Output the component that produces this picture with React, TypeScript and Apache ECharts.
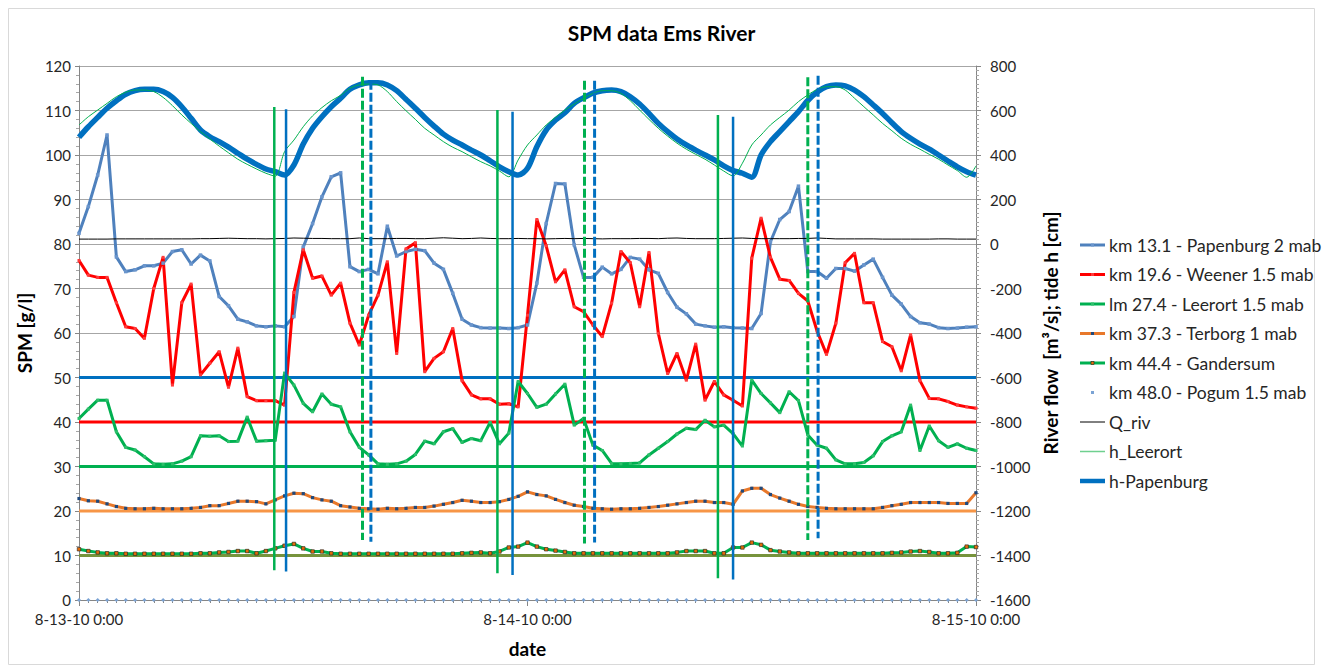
import React, { useEffect, useRef } from "react";
import * as echarts from "echarts";

const FONT = "Lato, 'Open Sans', sans-serif";

// time step between samples (hours) and x tick labels (every 24 h)
const stepHours = 0.5;
const xTickLabels = ["8-13-10 0:00", "8-14-10 0:00", "8-15-10 0:00"];

const legendNames = [
  "km 13.1 - Papenburg 2 mab",
  "km 19.6 - Weener 1.5 mab",
  "lm 27.4 - Leerort 1.5 mab",
  "km 37.3 - Terborg 1 mab",
  "km 44.4 - Gandersum",
  "km 48.0 - Pogum 1.5 mab",
  "Q_riv",
  "h_Leerort",
  "h-Papenburg",
];

// SPM [g/l]
const papenburg = [
  82.4, 88.4, 95.5, 104.5, 77.1, 73.8, 74.2, 75.1, 75.1, 75.7, 78.3, 78.7, 75.5, 77.5, 76.2, 68.2,
  66.1, 63.1, 62.5, 61.6, 61.4, 61.6, 61.4, 63.7, 79.3, 84.6, 90.6, 95.1, 96.0, 74.9, 73.8,
  74.3, 73.3, 84.0, 77.3, 78.3, 78.8, 78.5, 75.7, 74.3, 68.9, 63.1, 61.8, 61.2, 61.1, 61.1, 61.0,
  61.2, 61.8, 71.2, 84.6, 93.6, 93.5, 79.8, 72.5, 72.5, 74.8, 73.3, 74.3, 77.0, 76.6, 74.2, 73.4, 69.1,
  65.8, 64.3, 62.0, 61.6, 61.3, 61.4, 61.2, 61.1, 61.0, 64.4, 80.5, 85.5, 87.3, 93.0, 73.8, 73.8,
  72.3, 74.5, 74.5, 73.9, 75.3, 76.6, 72.5, 68.5, 66.5, 63.7, 62.3, 62.0, 61.2, 61.0, 61.1, 61.3, 61.4,
];
const weener = [
  76.3, 73.0, 72.5, 72.5, 66.8, 61.4, 61.0, 58.8, 70.0, 77.0, 48.3, 66.8, 71.0, 50.6, 53.2, 55.8,
  47.8, 56.6, 45.7, 44.8, 44.8, 44.8, 43.8, 69.1, 78.7, 72.3, 72.8, 68.5, 71.2, 62.2, 57.3,
  64.0, 68.5, 76.0, 55.4, 78.9, 80.3, 51.3, 54.3, 55.8, 61.0, 49.3, 46.1, 45.2, 45.2, 44.0, 44.1,
  43.4, 64.0, 85.5, 79.6, 71.5, 74.2, 65.9, 64.8, 61.8, 59.2, 66.7, 78.3, 75.8, 65.9, 78.1, 59.9, 50.9,
  55.4, 49.4, 57.5, 44.9, 49.1, 46.1, 44.9, 43.6, 76.8, 85.8, 77.0, 72.1, 71.8, 68.9, 67.2, 60.4,
  55.2, 62.2, 75.8, 77.9, 66.8, 66.8, 58.1, 56.9, 51.5, 59.6, 49.3, 45.3, 45.2, 44.6, 43.8, 43.4, 43.1,
];
const leerort = [
  40.8, 42.9, 44.9, 44.9, 37.8, 34.3, 33.7, 32.2, 30.6, 30.5, 30.6, 31.2, 32.2, 36.9, 36.8, 36.9,
  35.6, 35.7, 41.1, 35.7, 35.8, 35.9, 51.0, 48.3, 44.2, 42.3, 46.3, 44.0, 43.4, 37.8, 34.3, 32.6,
  30.6, 30.5, 30.6, 31.2, 32.7, 35.7, 35.1, 37.8, 38.5, 35.4, 36.3, 35.8, 39.9, 35.1, 37.5, 49.1,
  46.4, 43.3, 44.0, 46.3, 48.5, 39.3, 40.8, 34.8, 33.6, 30.7, 30.6, 30.7, 30.8, 32.6, 34.1, 35.6,
  37.3, 38.6, 38.3, 40.4, 38.9, 39.3, 37.4, 34.6, 49.4, 46.4, 44.3, 42.1, 46.8, 44.8, 37.1, 34.8,
  34.1, 31.5, 30.6, 30.6, 30.9, 32.4, 35.6, 36.9, 37.8, 43.8, 33.6, 39.1, 35.8, 34.3, 35.1, 34.1, 33.6,
];
const terborg = [
  22.8, 22.3, 22.2, 21.6, 21.0, 20.6, 20.5, 20.5, 20.6, 20.5, 20.5, 20.5, 20.6, 20.8, 21.2, 21.2,
  21.7, 22.2, 22.2, 22.1, 21.6, 22.5, 23.4, 24.0, 23.9, 23.0, 22.5, 22.2, 21.2, 20.9, 20.6, 20.5,
  20.4, 20.6, 20.5, 20.6, 20.8, 20.8, 21.1, 21.5, 21.9, 22.4, 22.2, 21.9, 21.9, 22.1, 22.6, 23.3,
  24.3, 23.7, 23.4, 22.6, 21.9, 21.3, 21.0, 20.6, 20.5, 20.4, 20.5, 20.5, 20.6, 20.8, 21.0, 21.3,
  21.6, 21.9, 22.2, 22.2, 21.9, 21.9, 21.5, 24.5, 25.1, 25.1, 23.7, 22.9, 22.2, 21.5, 21.0, 20.8,
  20.6, 20.5, 20.5, 20.5, 20.5, 20.5, 20.8, 21.2, 21.5, 21.9, 21.9, 21.9, 21.9, 21.7, 21.7, 21.7, 24.1,
];
const gandersum = [
  11.4, 11.0, 10.7, 10.5, 10.5, 10.4, 10.4, 10.4, 10.4, 10.4, 10.4, 10.4, 10.4, 10.5, 10.5, 10.7,
  10.8, 11.0, 11.0, 10.5, 11.0, 11.6, 12.2, 12.6, 11.6, 10.9, 10.9, 10.5, 10.4, 10.4, 10.4, 10.4,
  10.4, 10.4, 10.4, 10.4, 10.4, 10.4, 10.4, 10.4, 10.4, 10.5, 10.6, 10.7, 10.5, 10.9, 11.8, 12.0,
  12.9, 12.0, 11.4, 11.1, 10.8, 10.5, 10.5, 10.5, 10.5, 10.5, 10.5, 10.5, 10.5, 10.5, 10.5, 10.5,
  10.7, 11.0, 11.0, 11.0, 10.5, 10.5, 11.8, 11.8, 12.9, 12.4, 11.2, 10.9, 10.7, 10.5, 10.5, 10.5,
  10.5, 10.5, 10.5, 10.5, 10.5, 10.5, 10.5, 10.6, 10.7, 10.9, 11.0, 10.8, 10.5, 10.5, 10.6, 12.0, 11.9,
];
const pogum = [
  0, 0, 0, 0, 0, 0, 0, 0, 0, 0, 0, 0, 0, 0, 0, 0, 0, 0, 0, 0, 0, 0, 0, 0, 0, 0, 0, 0, 0, 0, 0, 0,
  0, 0, 0, 0, 0, 0, 0, 0, 0, 0, 0, 0, 0, 0, 0, 0, 0, 0, 0, 0, 0, 0, 0, 0, 0, 0, 0, 0, 0, 0, 0, 0,
  0, 0, 0, 0, 0, 0, 0, 0, 0, 0, 0, 0, 0, 0, 0, 0, 0, 0, 0, 0, 0, 0, 0, 0, 0, 0, 0, 0, 0, 0, 0, 0, 0,
];

// River flow [m3/s] and tide h [cm] (secondary axis)
const qRiv = [
  22, 22, 22, 22, 23, 23, 23, 23, 23, 23, 23, 23, 23, 24, 24, 25, 26, 25, 24, 24,
  23, 24, 25, 27, 26, 25, 25, 24, 24, 24, 27, 24, 24, 24, 25, 25, 24, 24, 26, 28,
  26, 24, 25, 27, 25, 24, 24, 25, 24, 24, 23, 24, 25, 24, 25, 24, 23, 24, 24, 24,
  25, 25, 24, 26, 27, 25, 24, 24, 24, 25, 26, 27, 25, 24, 24, 24, 24, 25, 25, 27,
  25, 23, 23, 23, 23, 23, 22, 22, 22, 22, 22, 22, 23, 23, 22, 22, 22,
];
const hLeerort = [
  535, 572, 602, 632, 662, 682, 692, 692, 685, 659, 622, 580, 542, 505, 472, 440,
  410, 381, 358, 337, 318, 305, 415, 467, 527, 576, 613, 644, 668, 700, 715, 719,
  715, 685, 640, 599, 560, 520, 490, 460, 435, 415, 392, 370, 351, 328, 302, 378,
  445, 490, 535, 569, 602, 629, 655, 677, 689, 689, 677, 644, 602, 560, 520, 485,
  453, 426, 403, 381, 355, 328, 306, 363, 445, 490, 535, 569, 602, 640, 670, 695,
  707, 707, 692, 655, 617, 580, 542, 509, 475, 448, 426, 403, 381, 355, 330, 300, 351,
];
const hPapenburg = [
  480, 527, 569, 610, 644, 673, 689, 695, 695, 685, 659, 617, 565, 512, 482, 460,
  435, 408, 381, 358, 337, 325, 310, 355, 449, 520, 572, 617, 655, 695, 715, 725,
  725, 715, 689, 650, 610, 569, 530, 494, 467, 445, 422, 400, 374, 347, 325, 310,
  340, 437, 512, 557, 590, 632, 657, 678, 689, 692, 685, 662, 629, 587, 542, 505,
  472, 445, 422, 400, 378, 351, 330, 318, 300, 400, 460, 505, 550, 595, 645, 683,
  707, 715, 711, 692, 662, 625, 587, 545, 505, 475, 449, 426, 400, 373, 347, 325, 310,
];

// reference levels on SPM axis
const thresholdLevels = [50, 40, 30, 20, 10];

// low / high water markers: time [h], top and bottom [g/l]
const lowWaterLeerortH = [10.45, 22.39, 34.19];
const lowWaterLeerortTop = [110.8, 110.1, 109.0];
const lowWaterLeerortBottom = [6.7, 6.0, 4.9];
const lowWaterPapenburgH = [11.08, 23.2, 35.0];
const lowWaterPapenburgTop = [110.3, 109.7, 108.6];
const lowWaterPapenburgBottom = [6.4, 5.6, 4.6];
const highWaterLeerortH = [15.17, 27.05, 39.0];
const highWaterLeerortTop = [117.6, 116.7, 117.5];
const highWaterLeerortBottom = [13.5, 12.7, 13.5];
const highWaterPapenburgH = [15.62, 27.59, 39.55];
const highWaterPapenburgTop = [116.7, 116.7, 117.8];
const highWaterPapenburgBottom = [13.1, 12.9, 13.9];

const hours = papenburg.map((_, i) => i * stepHours);
const toPairs = (vals: number[]) => vals.map((v, i) => [hours[i], v]);

const thresholdColors = ["#0070C0", "#FF0000", "#00B050", "#F79646", "#77933C"];

// legend icon: a short line with an optional small marker (drawn as an SVG image)
function legendIcon(lineColor: string | null, lineWidth: number, markFill: string | null, markSize: number, markStroke?: string) {
  let s = `<svg xmlns="http://www.w3.org/2000/svg" width="25" height="14" viewBox="0 0 25 14">`;
  if (lineColor) {
    s += `<line x1="0" y1="7" x2="25" y2="7" stroke="${lineColor}" stroke-width="${lineWidth}"/>`;
  }
  if (markFill) {
    const h = markSize / 2;
    s += `<rect x="${12.5 - h}" y="${7 - h}" width="${markSize}" height="${markSize}" fill="${markFill}"${
      markStroke ? ` stroke="${markStroke}" stroke-width="0.6"` : ""
    }/>`;
  }
  s += `</svg>`;
  return "image://data:image/svg+xml;charset=utf-8," + encodeURIComponent(s);
}

function buildOption() {
  const series: any[] = [];

  thresholdLevels.forEach((lv, k) => {
    series.push({
      type: "line",
      name: "level" + lv,
      data: [
        [0, lv],
        [48, lv],
      ],
      yAxisIndex: 0,
      symbol: "none",
      silent: true,
      lineStyle: { color: thresholdColors[k], width: 3 },
      z: 2,
    });
  });

  const spm = (
    name: string,
    vals: number[],
    color: string,
    markColor: string,
    markSize: number,
    markBorder?: string
  ) => ({
    type: "line",
    name,
    data: toPairs(vals),
    yAxisIndex: 0,
    symbol: "rect",
    symbolSize: markSize,
    showSymbol: true,
    silent: true,
    lineStyle: { color, width: 3 },
    itemStyle: { color: markColor, borderColor: markBorder || markColor, borderWidth: markBorder ? 0.6 : 0 },
    z: 3,
  });

  series.push(spm(legendNames[0], papenburg, "#4F81BD", "#6A95CC", 3.5));
  series.push(spm(legendNames[1], weener, "#FF0000", "#FF3B3B", 3));
  series.push(spm(legendNames[2], leerort, "#00B050", "#2DBF6B", 3));
  series.push(spm(legendNames[3], terborg, "#E8782A", "#1F497D", 3.2));
  series.push(spm(legendNames[4], gandersum, "#00B050", "#E46C0A", 3.5, "#222222"));
  series.push({
    type: "line",
    name: legendNames[5],
    data: toPairs(pogum),
    yAxisIndex: 0,
    symbol: "diamond",
    symbolSize: 4,
    showSymbol: true,
    silent: true,
    lineStyle: { color: "#7BA3D4", width: 1, opacity: 0 },
    itemStyle: { color: "#7BA3D4" },
    z: 4,
  });

  series.push({
    type: "line",
    name: legendNames[6],
    data: toPairs(qRiv),
    yAxisIndex: 1,
    symbol: "none",
    silent: true,
    lineStyle: { color: "#000000", width: 1 },
    itemStyle: { color: "#000000" },
    z: 4,
  });
  series.push({
    type: "line",
    name: legendNames[8],
    data: toPairs(hPapenburg),
    yAxisIndex: 1,
    symbol: "none",
    smooth: 0.3,
    silent: true,
    lineStyle: { color: "#0070C0", width: 5.5 },
    itemStyle: { color: "#0070C0" },
    z: 5,
  });
  series.push({
    type: "line",
    name: legendNames[7],
    data: toPairs(hLeerort),
    yAxisIndex: 1,
    symbol: "none",
    smooth: 0.3,
    silent: true,
    lineStyle: { color: "#00B050", width: 1 },
    itemStyle: { color: "#00B050" },
    z: 6,
  });

  const vline = (
    tag: string,
    hs: number[],
    tops: number[],
    bottoms: number[],
    color: string,
    width: number,
    dashed: boolean
  ) => {
    hs.forEach((h, k) => {
      series.push({
        type: "line",
        name: tag + k,
        data: [
          [h, tops[k]],
          [h, bottoms[k]],
        ],
        yAxisIndex: 0,
        symbol: "none",
        silent: true,
        lineStyle: { color, width, type: dashed ? [9, 3] : "solid" },
        z: 7,
      });
    });
  };
  vline("lwL", lowWaterLeerortH, lowWaterLeerortTop, lowWaterLeerortBottom, "#00B050", 2.5, false);
  vline("lwP", lowWaterPapenburgH, lowWaterPapenburgTop, lowWaterPapenburgBottom, "#0070C0", 2.5, false);
  vline("hwL", highWaterLeerortH, highWaterLeerortTop, highWaterLeerortBottom, "#00B050", 3, true);
  vline("hwP", highWaterPapenburgH, highWaterPapenburgTop, highWaterPapenburgBottom, "#0070C0", 3, true);

  const legendIcons = [
    legendIcon("#4F81BD", 3, "#6A95CC", 3),
    legendIcon("#FF0000", 3, "#FF3B3B", 3),
    legendIcon("#00B050", 3, "#2DBF6B", 3),
    legendIcon("#E8782A", 3, "#1F497D", 3),
    legendIcon("#00B050", 3, "#E46C0A", 3, "#222222"),
    legendIcon(null, 0, "#7BA3D4", 3),
    legendIcon("#000000", 1, null, 0),
    legendIcon("#6FD08F", 1.5, null, 0),
    legendIcon("#0070C0", 4.5, null, 0),
  ];

  const axisGray = "#868686";
  const labelStyle = { fontFamily: FONT, fontSize: 15, color: "#262626" };
  const nameStyle = { fontFamily: FONT, fontSize: 19, fontWeight: "bold" as const, color: "#000000" };

  return {
    animation: false,
    backgroundColor: "#ffffff",
    textStyle: { fontFamily: FONT },
    title: {
      text: "SPM data Ems River",
      left: "center",
      top: 17,
      textStyle: { fontFamily: FONT, fontSize: 21, fontWeight: "bold", color: "#000000" },
    },
    legend: {
      orient: "vertical",
      left: 1080,
      top: 236,
      padding: 0,
      itemWidth: 25,
      itemHeight: 14,
      itemGap: 11.5,
      selectedMode: false,
      data: legendNames.map((n, i) => ({ name: n, icon: legendIcons[i] })),
      textStyle: { fontFamily: FONT, fontSize: 17.5, color: "#262626", padding: [0, 0, 0, -1] },
    },
    grid: { left: 79, right: 347, top: 66, bottom: 72, containLabel: false, outerBoundsMode: "none" },
    graphic: [
      {
        type: "rect",
        silent: true,
        shape: { x: 8.5, y: 8.5, width: 1306, height: 656 },
        style: { fill: "none", stroke: "#D9D9D9", lineWidth: 1 },
        z: -10,
      },
    ],
    xAxis: {
      type: "value",
      min: 0,
      max: 48,
      interval: 24,
      name: "date",
      nameLocation: "middle",
      nameGap: 39,
      nameTextStyle: nameStyle,
      axisLine: { show: true, onZero: false, lineStyle: { color: axisGray } },
      axisTick: { show: true, length: 6, lineStyle: { color: axisGray } },
      minorTick: { show: true, splitNumber: 48, length: 3, lineStyle: { color: axisGray } },
      splitLine: { show: false },
      axisLabel: {
        ...labelStyle,
        margin: 11,
        showMinLabel: true,
        showMaxLabel: true,
        formatter: (v: number) => xTickLabels[Math.round(v / 24)] ?? "",
      },
    },
    yAxis: [
      {
        type: "value",
        min: 0,
        max: 120,
        interval: 10,
        position: "left",
        name: "SPM [g/l]",
        nameLocation: "middle",
        nameGap: 39,
        nameRotate: 90,
        nameTextStyle: nameStyle,
        axisLine: { show: true, lineStyle: { color: axisGray } },
        axisTick: { show: true, length: 4, lineStyle: { color: axisGray } },
        minorTick: { show: true, splitNumber: 5, length: 3, lineStyle: { color: "#A6A6A6" } },
        splitLine: { show: true, lineStyle: { color: "#A6A6A6", width: 1 } },
        axisLabel: { ...labelStyle, margin: 8, formatter: (v: number) => String(v) },
      },
      {
        type: "value",
        min: -1600,
        max: 800,
        interval: 200,
        position: "right",
        name: "River flow  [m\u00B3/s]; tide h [cm]",
        nameLocation: "middle",
        nameGap: 63,
        nameRotate: 90,
        nameTextStyle: nameStyle,
        axisLine: { show: true, lineStyle: { color: axisGray } },
        axisTick: { show: true, length: 5, lineStyle: { color: axisGray } },
        minorTick: { show: true, splitNumber: 10, length: 3, lineStyle: { color: "#A6A6A6" } },
        splitLine: { show: false },
        axisLabel: { ...labelStyle, margin: 14, formatter: (v: number) => String(v) },
      },
    ],
    series,
  };
}

export default function App() {
  const ref = useRef<HTMLDivElement>(null);
  useEffect(() => {
    document.body.style.margin = "0";
    const chart = echarts.init(ref.current!, null, { renderer: "svg" });
    chart.setOption(buildOption() as any);
    return () => chart.dispose();
  }, []);
  return <div ref={ref} style={{ width: 1323, height: 672 }} />;
}
